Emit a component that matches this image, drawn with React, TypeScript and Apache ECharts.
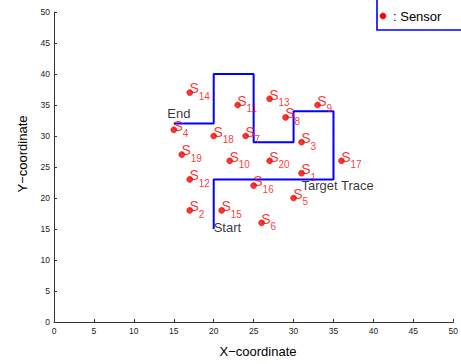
import React, { useEffect, useRef } from "react";
import * as echarts from "echarts";

const sensorIds = [1, 2, 3, 4, 5, 6, 7, 8, 9, 10, 11, 12, 13, 14, 15, 16, 17, 18, 19, 20];
const sensorX = [31, 17, 31, 15, 30, 26, 24, 29, 33, 22, 23, 17, 27, 17, 21, 25, 36, 20, 16, 27];
const sensorY = [24, 18, 29, 31, 20, 16, 30, 33, 35, 26, 35, 23, 36, 37, 18, 22, 26, 30, 27, 26];

const traceX = [20, 20, 35, 35, 30, 30, 25, 25, 20, 20, 15];
const traceY = [15, 23, 23, 34, 34, 29, 29, 40, 40, 32, 32];

const noteTexts = ["End", "Start", "Target Trace"];
const noteX = [14.2, 20, 31];
const noteY = [33.7, 15.3, 22];

const FONT = "'Liberation Sans', Arial, sans-serif";

export default function App() {
  const ref = useRef<HTMLDivElement>(null);
  useEffect(() => {
    if (!ref.current) return;
    const chart = echarts.init(ref.current, undefined, { renderer: "svg" });
    const sensorData = sensorIds.map((id, i) => ({ name: String(id), value: [sensorX[i], sensorY[i]] }));
    const noteData = noteTexts.map((t, i) => ({ name: t, value: [noteX[i], noteY[i]] }));
    const axisCommon = {
      type: "value" as const,
      min: 0,
      max: 50,
      interval: 5,
      splitLine: { show: false },
      axisLine: { show: true, lineStyle: { color: "#333", width: 1 } },
      axisTick: { show: true, inside: true, length: 3, lineStyle: { color: "#333" } },
      axisLabel: { color: "#222", fontSize: 8.5, fontFamily: FONT, margin: 4 },
    };
    chart.setOption({
      animation: false,
      backgroundColor: "#fff",
      textStyle: { fontFamily: FONT },
      grid: { left: 54, right: 7, top: 12, bottom: 42 },
      xAxis: { ...axisCommon },
      yAxis: { ...axisCommon },
      series: [
        {
          type: "line",
          data: traceX.map((x, i) => [x, traceY[i]]),
          showSymbol: false,
          symbol: "none",
          lineStyle: { color: "#0000ff", width: 2 },
          z: 2,
        },
        {
          type: "scatter",
          name: "Sensor",
          data: sensorData,
          symbol: "circle",
          symbolSize: 6,
          itemStyle: { color: "#ff0000", borderColor: "#c00000", borderWidth: 0.6 },
          label: {
            show: true,
            formatter: "S",
            position: [3, -1],
            align: "left",
            verticalAlign: "middle",
            color: "#ff0000",
            fontSize: 14,
            fontFamily: FONT,
          },
          z: 3,
        },
        {
          type: "scatter",
          data: sensorData,
          symbolSize: 0.1,
          itemStyle: { color: "rgba(0,0,0,0)" },
          label: {
            show: true,
            formatter: (p: any) => p.name,
            position: [9, 4],
            align: "left",
            verticalAlign: "middle",
            color: "#ff0000",
            fontSize: 10,
            fontFamily: FONT,
          },
          z: 3,
        },
        {
          type: "scatter",
          data: noteData,
          symbolSize: 0.1,
          itemStyle: { color: "rgba(0,0,0,0)" },
          label: {
            show: true,
            formatter: (p: any) => p.name,
            position: [0, 0],
            align: "left",
            verticalAlign: "middle",
            color: "#000",
            fontSize: 13,
            fontFamily: FONT,
          },
          z: 4,
        },
      ],
      graphic: [
        {
          type: "rect",
          shape: { x: 377, y: -5, width: 100, height: 35 },
          style: { fill: "#fff", stroke: "#0000ff", lineWidth: 1.6 },
          z: 10,
        },
        {
          type: "circle",
          shape: { cx: 383, cy: 16, r: 3 },
          style: { fill: "#ff0000", stroke: "#c00000", lineWidth: 0.6 },
          z: 11,
        },
        {
          type: "text",
          x: 393,
          y: 16,
          style: { text: ": Sensor", fill: "#000", fontSize: 13, fontFamily: FONT, verticalAlign: "middle" },
          z: 11,
        },
        {
          type: "text",
          x: 258,
          y: 351,
          style: { text: "X\u2212coordinate", fill: "#000", fontSize: 13, fontFamily: FONT, align: "center", verticalAlign: "middle" },
        },
        {
          type: "text",
          x: 22,
          y: 154,
          rotation: Math.PI / 2,
          style: { text: "Y\u2212coordinate", fill: "#000", fontSize: 13, fontFamily: FONT, align: "center", verticalAlign: "middle" },
        },
      ],
    });
    return () => chart.dispose();
  }, []);
  return <div ref={ref} style={{ position: "absolute", left: 0, top: 0, width: 461, height: 364 }} />;
}
